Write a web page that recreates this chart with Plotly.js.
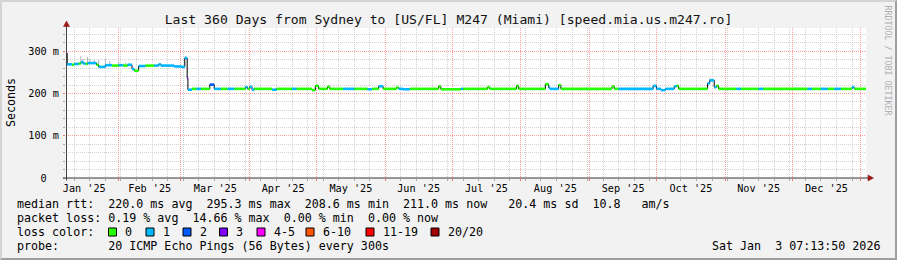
<!DOCTYPE html>
<html>
<head>
<meta charset="utf-8">
<script src="https://cdn.plot.ly/plotly-3.0.1.min.js"></script>
<style>
  html, body { margin: 0; padding: 0; background: #f2f2f2; }
  #wrap { position: relative; width: 897px; height: 260px; }
  #chart { width: 897px; height: 260px; }
  #frame { position: absolute; left: 0; top: 0; width: 897px; height: 260px; box-sizing: border-box;
           border-top: 2px solid #d4d4d4; border-left: 2px solid #d4d4d4;
           border-right: 2px solid #9e9e9e; border-bottom: 2px solid #9e9e9e; pointer-events: none; }
</style>
</head>
<body>
<div id="wrap"><div id="chart"></div><div id="frame"></div></div>
<script>
// ---------------- DATA ----------------
const rangeStart = '2025-01-08 07:13:50';
const rangeEnd   = '2026-01-03 07:13:50';

// step series of the median RTT (ms); each value holds until the next date
const stepDates = [
  '2025-01-08 07:14','2025-01-08 20:00','2025-01-11','2025-01-12','2025-01-14','2025-01-15','2025-01-16',
  '2025-01-17','2025-01-18','2025-01-22','2025-01-23','2025-01-26','2025-01-29','2025-02-01','2025-02-03',
  '2025-02-05','2025-02-07','2025-02-08','2025-02-10','2025-02-13','2025-02-17','2025-02-19','2025-02-20',
  '2025-02-26','2025-03-01','2025-03-02 18:00','2025-03-03 20:00','2025-03-04 04:00','2025-03-06','2025-03-08',
  '2025-03-10','2025-03-14','2025-03-16','2025-03-19','2025-03-22','2025-03-25','2025-03-30','2025-03-31',
  '2025-04-01','2025-04-02','2025-04-03','2025-04-11','2025-04-13','2025-04-20','2025-04-22','2025-04-29',
  '2025-04-30 12:00','2025-05-02','2025-05-06','2025-05-07','2025-05-13','2025-05-18','2025-05-24','2025-05-26',
  '2025-05-29','2025-05-31','2025-06-06','2025-06-07','2025-06-09','2025-06-12','2025-06-25','2025-06-26',
  '2025-07-05','2025-07-06','2025-07-17','2025-07-18','2025-07-30','2025-07-31','2025-08-12','2025-08-13 12:00',
  '2025-08-14','2025-08-18','2025-08-19','2025-09-11','2025-09-12','2025-09-14','2025-09-29 12:00','2025-10-01',
  '2025-10-03','2025-10-05','2025-10-09','2025-10-10','2025-10-11','2025-10-24','2025-10-25','2025-10-27',
  '2025-10-28','2025-10-29','2025-11-06','2025-11-08','2025-11-16','2025-11-18','2025-12-08','2025-12-10',
  '2025-12-14','2025-12-17','2025-12-20','2025-12-23','2025-12-28','2025-12-29'
];
const medianMs = [
  295,269,268,270,271,274,271,
  270,272,268,263,267,266,267,266,
  268,258,254,265,266,266,269,266,
  264,263,284,236,209,211,211,
  211,221,211,211,211,211,215,211,
  216,209,211,209,211,211,211,208,
  218,211,216,211,211,211,210,211,
  217,211,214,211,210,211,217,210,
  211,211,215,211,218,211,222,214,
  211,220,211,217,211,211,218,211,
  208,211,217,218,211,224,231,215,
  218,211,211,211,211,211,211,211,
  211,211,211,211,215,211
];
// index into lossColors (0 = no loss, 1 = 1/20 lost, ...)
const lossIdx = [
  3,1,0,1,0,1,1,
  0,1,0,1,1,0,1,0,
  1,1,0,1,0,1,1,1,
  1,1,1,3,1,0,1,
  0,2,1,0,1,0,1,0,
  1,1,0,1,0,1,0,0,
  0,0,0,0,1,0,1,0,
  1,0,0,1,1,0,0,0,
  1,0,0,0,0,0,0,1,
  1,0,0,0,0,1,1,1,
  1,1,1,0,0,1,1,1,
  0,0,1,0,1,0,1,0,
  1,0,1,0,1,0
];

// smoke (ping spread) spikes
const smokeDates  = ['2025-01-15','2025-01-16','2025-01-18','2025-01-19','2025-01-21','2025-01-23','2025-01-26','2025-01-28','2025-02-01','2025-02-04','2025-03-03','2025-10-25','2025-10-26'];
const smokeHighMs = [289,282,286,281,280,279,281,277,275,273,288,237,235];

const lossLabels = ['0','1','2','3','4-5','6-10','11-19','20/20'];
const lossColors = ['#26ff00','#00b8ff','#0059ff','#7e00ff','#ff00ff','#ff5500','#ff0000','#a10000'];

const monthStarts = ['2025-02-01','2025-03-01','2025-04-01','2025-05-01','2025-06-01','2025-07-01','2025-08-01',
                     '2025-09-01','2025-10-01','2025-11-01','2025-12-01','2026-01-01'];
const monthMids   = ['2025-01-16 12:00','2025-02-15','2025-03-16 12:00','2025-04-16','2025-05-16 12:00','2025-06-16',
                     '2025-07-16 12:00','2025-08-16 12:00','2025-09-16','2025-10-16 12:00','2025-11-16','2025-12-16 12:00'];
const monthLabels = ["Jan '25","Feb '25","Mar '25","Apr '25","May '25","Jun '25","Jul '25","Aug '25","Sep '25","Oct '25","Nov '25","Dec '25"];

const yTickVals = [0, 100, 200, 300];
const yTickText = ['0\u00a0\u00a0', '100 m', '200 m', '300 m'];

const titleText = 'Last 360 Days from Sydney to [US/FL] M247 (Miami) [speed.mia.us.m247.ro]';
const legendRows = [
  'median rtt:  220.0 ms avg  295.3 ms max  208.6 ms min  211.0 ms now   20.4 ms sd  10.8   am/s',
  'packet loss: 0.19 % avg  14.66 % max  0.00 % min  0.00 % now',
  'loss color:',
  'probe:       20 ICMP Echo Pings (56 Bytes) every 300s'
];
const stampText = 'Sat Jan  3 07:13:50 2026';
const watermark = 'RRDTOOL / TOBI OETIKER';

// ---------------- LAYOUT HELPERS ----------------
const W = 897, H = 260, M = {l: 66, r: 31, t: 28, b: 82};
const PW = W - M.l - M.r, PH = H - M.t - M.b;
const px = x => (x - M.l) / PW;
const py = y => (H - M.b - y) / PH;
const nb = s => s.replace(/ /g, '\u00a0');
const MONO = 'DejaVu Sans Mono, monospace';
const toMs = s => new Date(s.replace(' ', 'T')).getTime();

// ---------------- TRACES ----------------
const traces = [];

// smoke
const medianAt = d => {
  const t = toMs(d); let v = medianMs[0];
  for (let i = 0; i < stepDates.length; i++) if (toMs(stepDates[i]) <= t) v = medianMs[i];
  return v;
};
const smoke = {x: [], y: [], mode: 'lines', line: {color: '#b4b4b4', width: 1}, hoverinfo: 'skip', showlegend: false};
smokeDates.forEach((d, i) => { smoke.x.push(d, d, null); smoke.y.push(medianAt(d), smokeHighMs[i], null); });
traces.push(smoke);

// black connector step line
traces.push({
  x: stepDates.concat([rangeEnd]), y: medianMs.concat([medianMs[medianMs.length - 1]]),
  mode: 'lines', line: {color: '#000000', width: 1, shape: 'hv'}, hoverinfo: 'skip', showlegend: false
});

// coloured segments by loss class
const seg = lossColors.map(c => ({x: [], y: [], mode: 'lines', line: {color: c, width: 2.6}, hoverinfo: 'skip', showlegend: false}));
for (let i = 0; i < stepDates.length; i++) {
  const end = i + 1 < stepDates.length ? stepDates[i + 1] : rangeEnd;
  const t = seg[lossIdx[i]];
  t.x.push(stepDates[i], end, null);
  t.y.push(medianMs[i], medianMs[i], null);
}
seg.forEach(t => { if (t.x.length) traces.push(t); });

// invisible trace for label axis
traces.push({x: [rangeStart], y: [0], xaxis: 'x2', mode: 'markers', marker: {opacity: 0}, hoverinfo: 'skip', showlegend: false});

// ---------------- ANNOTATIONS & SHAPES ----------------
const ann = [];
const legendY = [204, 218, 232, 246];
legendRows.forEach((r, i) => ann.push({
  text: nb(r), xref: 'paper', yref: 'paper', x: px(15), y: py(legendY[i]), xanchor: 'left', yanchor: 'middle',
  showarrow: false, font: {family: MONO, size: 11.66, color: '#000'}
}));
ann.push({text: nb(stampText), xref: 'paper', yref: 'paper', x: px(882), y: py(246), xanchor: 'right', yanchor: 'middle',
  showarrow: false, font: {family: MONO, size: 11.66, color: '#000'}});
ann.push({text: 'Seconds', xref: 'paper', yref: 'paper', x: px(10.5), y: py(102.5), xanchor: 'center', yanchor: 'middle',
  textangle: -90, showarrow: false, font: {family: MONO, size: 11.66, color: '#000'}});
ann.push({text: nb(watermark), xref: 'paper', yref: 'paper', x: px(887.5), y: py(60), xanchor: 'center', yanchor: 'middle',
  textangle: 90, showarrow: false, font: {family: MONO, size: 8.3, color: '#b0b0b0'}});

const shapes = [];
const sqX = [108.5, 146, 183, 219.5, 257, 306, 366, 431];
lossLabels.forEach((lab, i) => {
  shapes.push({type: 'rect', xref: 'paper', yref: 'paper', x0: px(sqX[i]), x1: px(sqX[i] + 8), y0: py(236), y1: py(228),
    fillcolor: lossColors[i], line: {color: '#000', width: 1}, layer: 'above'});
  ann.push({text: lab, xref: 'paper', yref: 'paper', x: px(sqX[i] + 14.5), y: py(232), xanchor: 'left', yanchor: 'middle',
    showarrow: false, font: {family: MONO, size: 11.66, color: '#000'}});
});
// axis lines with overhang and arrows
shapes.push({type: 'line', xref: 'paper', yref: 'paper', x0: px(63), x1: px(868), y0: py(178), y1: py(178), line: {color: '#333', width: 1}, layer: 'above'});
shapes.push({type: 'line', xref: 'paper', yref: 'paper', x0: px(66.5), x1: px(66.5), y0: py(180.5), y1: py(26), line: {color: '#444', width: 1}, layer: 'above'});
shapes.push({type: 'path', xref: 'paper', yref: 'paper', layer: 'above', fillcolor: '#a01818', line: {color: '#8a1010', width: 0.5},
  path: `M ${px(66.5)},${py(21)} L ${px(63.5)},${py(26.5)} L ${px(69.5)},${py(26.5)} Z`});
shapes.push({type: 'path', xref: 'paper', yref: 'paper', layer: 'above', fillcolor: '#a01818', line: {color: '#8a1010', width: 0.5},
  path: `M ${px(873.5)},${py(178)} L ${px(868)},${py(175)} L ${px(868)},${py(181)} Z`});

const layout = {
  width: W, height: H, margin: {l: M.l, r: M.r, t: M.t, b: M.b, pad: 0},
  paper_bgcolor: '#f2f2f2', plot_bgcolor: '#ffffff',
  showlegend: false,
  title: {text: titleText, font: {family: MONO, size: 13.1, color: '#111'}, x: 0.5, xref: 'container', xanchor: 'center',
          y: 1 - 19 / H, yref: 'container', yanchor: 'middle'},
  xaxis: {
    type: 'date', range: [rangeStart, rangeEnd], tickmode: 'array', tickvals: monthStarts, showticklabels: false,
    showgrid: true, gridcolor: '#ff9c9c', gridwidth: 1, griddash: '1px,1px', zeroline: false, showline: false,
    ticks: 'outside', ticklen: 2, tickcolor: '#ff7070',
    minor: {tick0: '2025-01-12', dtick: 7 * 86400000, showgrid: true, gridcolor: '#d2d2d2', gridwidth: 1, griddash: '1px,1px',
            ticks: 'outside', ticklen: 2, tickcolor: '#aaaaaa'},
    fixedrange: true
  },
  xaxis2: {
    type: 'date', overlaying: 'x', anchor: 'y', side: 'bottom', range: [rangeStart, rangeEnd],
    tickmode: 'array', tickvals: monthMids, ticktext: monthLabels, showgrid: false, zeroline: false, showline: false,
    ticks: '', tickfont: {family: MONO, size: 10.2, color: '#000'}, ticklabelstandoff: 3, fixedrange: true
  },
  yaxis: {
    range: [0, 355], tickmode: 'array', tickvals: yTickVals, ticktext: yTickText,
    showgrid: true, gridcolor: '#ff9c9c', gridwidth: 1, griddash: '1px,1px', zeroline: false, showline: false,
    ticks: 'outside', ticklen: 2, tickcolor: '#ff7070', tickfont: {family: MONO, size: 10.2, color: '#000'},
    ticklabelstandoff: 2,
    minor: {dtick: 20, showgrid: true, gridcolor: '#d2d2d2', gridwidth: 1, griddash: '1px,1px', ticks: 'outside', ticklen: 2, tickcolor: '#aaaaaa'},
    fixedrange: true
  },
  annotations: ann, shapes: shapes
};

Plotly.newPlot('chart', traces, layout, {staticPlot: true, displayModeBar: false});
</script>
</body>
</html>
